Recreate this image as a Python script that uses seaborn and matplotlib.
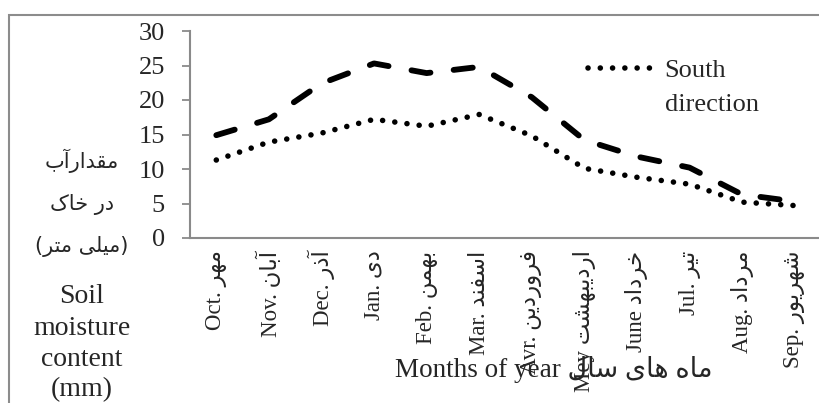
import matplotlib
matplotlib.use("Agg")
import matplotlib.pyplot as plt
import seaborn as sns
import pandas as pd
from matplotlib.patches import Rectangle

# ------------------ DATA ------------------
months_en = ["Oct.", "Nov.", "Dec.", "Jan.", "Feb.", "Mar.",
             "Avr.", "Mey", "June", "Jul.", "Aug.", "Sep."]
months_fa = ["مهر", "آبان", "آذر", "دی", "بهمن", "اسفند",
             "فروردین", "اردیبهشت", "خرداد", "تیر", "مرداد", "شهریور"]
north_mm = [14.9, 17.2, 22.4, 25.3, 23.9, 24.8, 20.4, 14.2, 11.8, 10.2, 6.3, 5.3]
south_mm = [11.3, 13.9, 15.2, 17.2, 16.2, 17.9, 14.8, 10.1, 8.8, 7.8, 5.2, 4.7]
y_ticks = [0, 5, 10, 15, 20, 25, 30]

# ------------------ minimal Persian shaping (matplotlib has no bidi) ------------------
# char: (isolated, final, initial, medial)
FORMS = {
    "ا": ("\uFE8D", "\uFE8E", None, None),
    "آ": ("\uFE81", "\uFE82", None, None),
    "ب": ("\uFE8F", "\uFE90", "\uFE91", "\uFE92"),
    "ت": ("\uFE95", "\uFE96", "\uFE97", "\uFE98"),
    "خ": ("\uFEA5", "\uFEA6", "\uFEA7", "\uFEA8"),
    "د": ("\uFEA9", "\uFEAA", None, None),
    "ذ": ("\uFEAB", "\uFEAC", None, None),
    "ر": ("\uFEAD", "\uFEAE", None, None),
    "ز": ("\uFEAF", "\uFEB0", None, None),
    "س": ("\uFEB1", "\uFEB2", "\uFEB3", "\uFEB4"),
    "ش": ("\uFEB5", "\uFEB6", "\uFEB7", "\uFEB8"),
    "ف": ("\uFED1", "\uFED2", "\uFED3", "\uFED4"),
    "ق": ("\uFED5", "\uFED6", "\uFED7", "\uFED8"),
    "ل": ("\uFEDD", "\uFEDE", "\uFEDF", "\uFEE0"),
    "م": ("\uFEE1", "\uFEE2", "\uFEE3", "\uFEE4"),
    "ن": ("\uFEE5", "\uFEE6", "\uFEE7", "\uFEE8"),
    "ه": ("\uFEE9", "\uFEEA", "\uFEEB", "\uFEEC"),
    "و": ("\uFEED", "\uFEEE", None, None),
    "ی": ("\uFBFC", "\uFBFD", "\uFBFE", "\uFBFF"),
    "ک": ("\uFB8E", "\uFB8F", "\uFB90", "\uFB91"),
}
MIRROR = {"(": ")", ")": "("}


def fa(text):
    out = []
    for i, c in enumerate(text):
        if c not in FORMS:
            out.append(c)
            continue
        prev = text[i - 1] if i > 0 else None
        nxt = text[i + 1] if i + 1 < len(text) else None
        join_prev = prev in FORMS and FORMS[prev][2] is not None
        join_next = FORMS[c][2] is not None and nxt in FORMS
        iso, fin, ini, med = FORMS[c]
        if join_prev and join_next:
            out.append(med)
        elif join_prev:
            out.append(fin)
        elif join_next:
            out.append(ini)
        else:
            out.append(iso)
    return "".join(MIRROR.get(c, c) for c in reversed(out))


df = pd.DataFrame({"month": months_en * 2,
                   "moisture": north_mm + south_mm,
                   "direction": ["North direction"] * 12 + ["South direction"] * 12})

sns.set_theme(style="white")
plt.rcParams["font.family"] = ["Liberation Serif", "DejaVu Sans"]

W, H = 820, 403
fig = plt.figure(figsize=(W / 100, H / 100), dpi=100)
ax = fig.add_axes([190 / W, 1 - 238 / H, 631 / W, 207 / H])

sns.lineplot(data=df[df.direction == "North direction"], x="month", y="moisture",
             color="black", lw=4.2, linestyle=(0, (3.3, 4.0)), dash_capstyle="round",
             legend=False, ax=ax)
sns.lineplot(data=df[df.direction == "South direction"], x="month", y="moisture",
             color="black", lw=4.0, linestyle=(0, (0.01, 2.2)), dash_capstyle="round",
             label="South", ax=ax)

ax.set_xlim(-0.5, 11.5)
ax.set_ylim(0, 30)
ax.set_yticks(y_ticks)
ax.set_yticklabels([str(v) for v in y_ticks], fontsize=19)
ax.set_xticks(range(12))
ax.set_xticklabels([f"{e} {fa(p)}" for e, p in zip(months_en, months_fa)],
                   rotation=90, fontsize=16.5)
ax.set_xticks([i - 0.5 for i in range(13)], minor=True)
ax.tick_params(axis="x", which="major", length=0, pad=9)
ax.tick_params(axis="x", which="minor", length=6, width=1.3, color="#8a8a8a", direction="out")
ax.tick_params(axis="y", length=6, width=1.3, color="#8a8a8a", direction="out", pad=12, left=True)
ax.set_xlabel("")
ax.set_ylabel("")
for s in ["top", "right"]:
    ax.spines[s].set_visible(False)
for s in ["left", "bottom"]:
    ax.spines[s].set_color("#8a8a8a")
    ax.spines[s].set_linewidth(1.5)
ax.patch.set_alpha(0)

leg = ax.legend(loc="upper left", bbox_to_anchor=(588 / W, 1 - 59 / H),
                bbox_transform=fig.transFigure, frameon=False, fontsize=19,
                handlelength=2.6, handletextpad=0.3, borderpad=0, borderaxespad=0)

# y-axis label block (Persian above, English below)
fa_lines = ["مقدارآب", "در خاک", "(میلی متر)"]
fa_y = [168, 210, 252]
for t, y in zip(fa_lines, fa_y):
    fig.text(82 / W, 1 - y / H, fa(t), ha="center", va="baseline", fontsize=15,
             family=["DejaVu Sans"])
en_lines = ["Soil", "moisture", "content", "(mm)"]
en_y = [303, 335, 366, 396]
for t, y in zip(en_lines, en_y):
    fig.text(82 / W, 1 - y / H, t, ha="center", va="baseline", fontsize=20)

# x-axis label
fig.text(395 / W, 1 - 377 / H, "Months of year " + fa("ماه های سال"),
         ha="left", va="baseline", fontsize=19.5)

# chart-area frame
fig.patches.append(Rectangle((8.5 / W, -0.1), 1.2, 1 - 15 / H + 0.1, transform=fig.transFigure,
                             fill=False, edgecolor="#8c8c8c", lw=1.5))

fig.canvas.draw()
bb = leg.get_texts()[0].get_window_extent()
fig.text(bb.x0 / W, 1 - 111 / H, "direction", ha="left", va="baseline", fontsize=19)

fig.savefig("out.png", dpi=100)
